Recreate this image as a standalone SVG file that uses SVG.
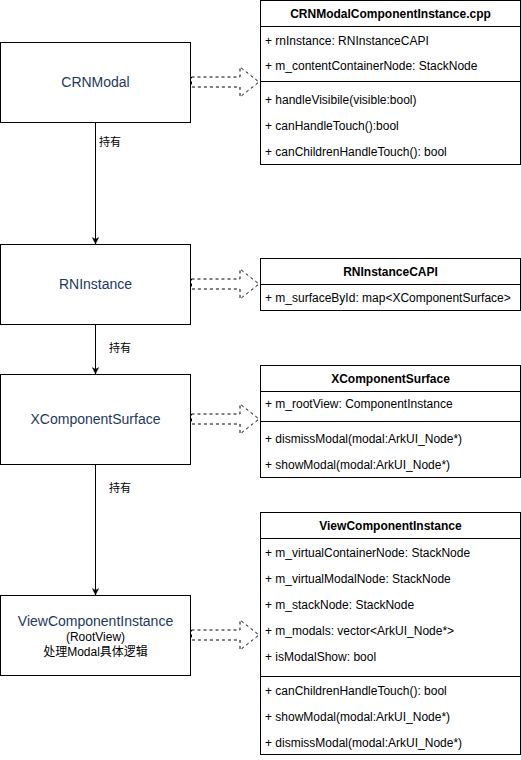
<svg xmlns="http://www.w3.org/2000/svg" width="521" height="760" viewBox="0 0 521 760">
<defs>
<style>
.box{fill:#fff;stroke:#000;stroke-width:1}
.lbl{font-family:"Liberation Sans",Arial,"Noto Sans CJK SC",sans-serif;font-size:14px;fill:#23395B;text-anchor:middle}
.sub{font-family:"Liberation Sans",Arial,"Noto Sans CJK SC",sans-serif;font-size:12px;fill:#000;text-anchor:middle}
.hdr{font-family:"Liberation Sans",Arial,sans-serif;font-size:12px;font-weight:bold;fill:#000;text-anchor:middle}
.row{font-family:"Liberation Sans",Arial,sans-serif;font-size:12px;fill:#000}
.sep{stroke:#000;stroke-width:1}
.edge{fill:none;stroke:#000;stroke-width:1}
.elbl{font-family:"Liberation Sans","Noto Sans CJK SC",sans-serif;font-size:11px;fill:#000}
.blk{fill:#fff;stroke:#000;stroke-width:1;stroke-dasharray:3 3}
</style>
<marker id="arr" viewBox="0 0 10 10" refX="9" refY="5" markerWidth="8" markerHeight="8" markerUnits="userSpaceOnUse" orient="auto">
<path d="M1,1 L9,5 L1,9 L3,5 Z" fill="#000" stroke="#000" stroke-width="0.5"/>
</marker>
</defs>

<g id="connectors">
<line class="edge" x1="95.5" y1="122" x2="95.5" y2="244" marker-end="url(#arr)"/>
<text class="elbl" x="99" y="146">持有</text>
<line class="edge" x1="95.5" y1="324" x2="95.5" y2="374" marker-end="url(#arr)"/>
<text class="elbl" x="109" y="352">持有</text>
<line class="edge" x1="95.5" y1="464" x2="95.5" y2="595" marker-end="url(#arr)"/>
<text class="elbl" x="109" y="492">持有</text>
<path class="blk" d="M191.5,77 L240,77 L240,67 L259,82 L240,97 L240,87 L191.5,87 Z"/>
<path class="blk" d="M191.5,279 L240,279 L240,269 L259,284 L240,299 L240,289 L191.5,289 Z"/>
<path class="blk" d="M191.5,414 L240,414 L240,404 L259,419 L240,434 L240,424 L191.5,424 Z"/>
<path class="blk" d="M191.5,630 L240,630 L240,620 L259,635 L240,650 L240,640 L191.5,640 Z"/>
</g>

<g id="crnmodal">
<rect class="box" x="0.5" y="42.5" width="190" height="80"/>
<text class="lbl" x="95.5" y="87">CRNModal</text>
</g>
<g id="rninstance">
<rect class="box" x="0.5" y="244.5" width="190" height="80"/>
<text class="lbl" x="95.5" y="289">RNInstance</text>
</g>
<g id="xcomponentsurface">
<rect class="box" x="0.5" y="374.5" width="190" height="90"/>
<text class="lbl" x="95.5" y="424">XComponentSurface</text>
</g>
<g id="viewcomponentinstance">
<rect class="box" x="0.5" y="595.5" width="190" height="80"/>
<text class="lbl" x="95.5" y="626">ViewComponentInstance</text>
<text class="sub" x="95.5" y="641">(RootView)</text>
<text class="sub" x="95.5" y="656">处理Modal具体逻辑</text>
</g>

<g id="crnmodalcomponentinstance">
<rect class="box" x="260.5" y="0.5" width="260" height="164"/>
<line class="sep" x1="260.5" y1="26.5" x2="520.5" y2="26.5"/>
<line class="sep" x1="260.5" y1="81.5" x2="520.5" y2="81.5"/>
<text class="hdr" x="390.5" y="18">CRNModalComponentInstance.cpp</text>
<text class="row" x="265" y="45">+ rnInstance: RNInstanceCAPI</text>
<text class="row" x="265" y="70">+ m_contentContainerNode: StackNode</text>
<text class="row" x="265" y="104">+ handleVisibile(visible:bool)</text>
<text class="row" x="265" y="130">+ canHandleTouch():bool</text>
<text class="row" x="265" y="156">+ canChildrenHandleTouch(): bool</text>
</g>
<g id="rninstancecapi">
<rect class="box" x="260.5" y="258.5" width="260" height="52"/>
<line class="sep" x1="260.5" y1="284.5" x2="520.5" y2="284.5"/>
<text class="hdr" x="390.5" y="276">RNInstanceCAPI</text>
<text class="row" x="265" y="302">+ m_surfaceById: map&lt;XComponentSurface&gt;</text>
</g>
<g id="xcomponentsurface-class">
<rect class="box" x="260.5" y="365.5" width="260" height="112"/>
<line class="sep" x1="260.5" y1="391.5" x2="520.5" y2="391.5"/>
<line class="sep" x1="260.5" y1="421.5" x2="520.5" y2="421.5"/>
<text class="hdr" x="390.5" y="383">XComponentSurface</text>
<text class="row" x="265" y="408">+ m_rootView: ComponentInstance</text>
<text class="row" x="265" y="443">+ dismissModal(modal:ArkUI_Node*)</text>
<text class="row" x="265" y="469">+ showModal(modal:ArkUI_Node*)</text>
</g>
<g id="viewcomponentinstance-class">
<rect class="box" x="260.5" y="512.5" width="260" height="242"/>
<line class="sep" x1="260.5" y1="538.5" x2="520.5" y2="538.5"/>
<line class="sep" x1="260.5" y1="676.5" x2="520.5" y2="676.5"/>
<text class="hdr" x="390.5" y="530">ViewComponentInstance</text>
<text class="row" x="265" y="557">+ m_virtualContainerNode: StackNode</text>
<text class="row" x="265" y="583">+ m_virtualModalNode: StackNode</text>
<text class="row" x="265" y="609">+ m_stackNode: StackNode</text>
<text class="row" x="265" y="635">+ m_modals: vector&lt;ArkUI_Node*&gt;</text>
<text class="row" x="265" y="661">+ isModalShow: bool</text>
<text class="row" x="265" y="695">+ canChildrenHandleTouch(): bool</text>
<text class="row" x="265" y="721">+ showModal(modal:ArkUI_Node*)</text>
<text class="row" x="265" y="747">+ dismissModal(modal:ArkUI_Node*)</text>
</g>
</svg>
